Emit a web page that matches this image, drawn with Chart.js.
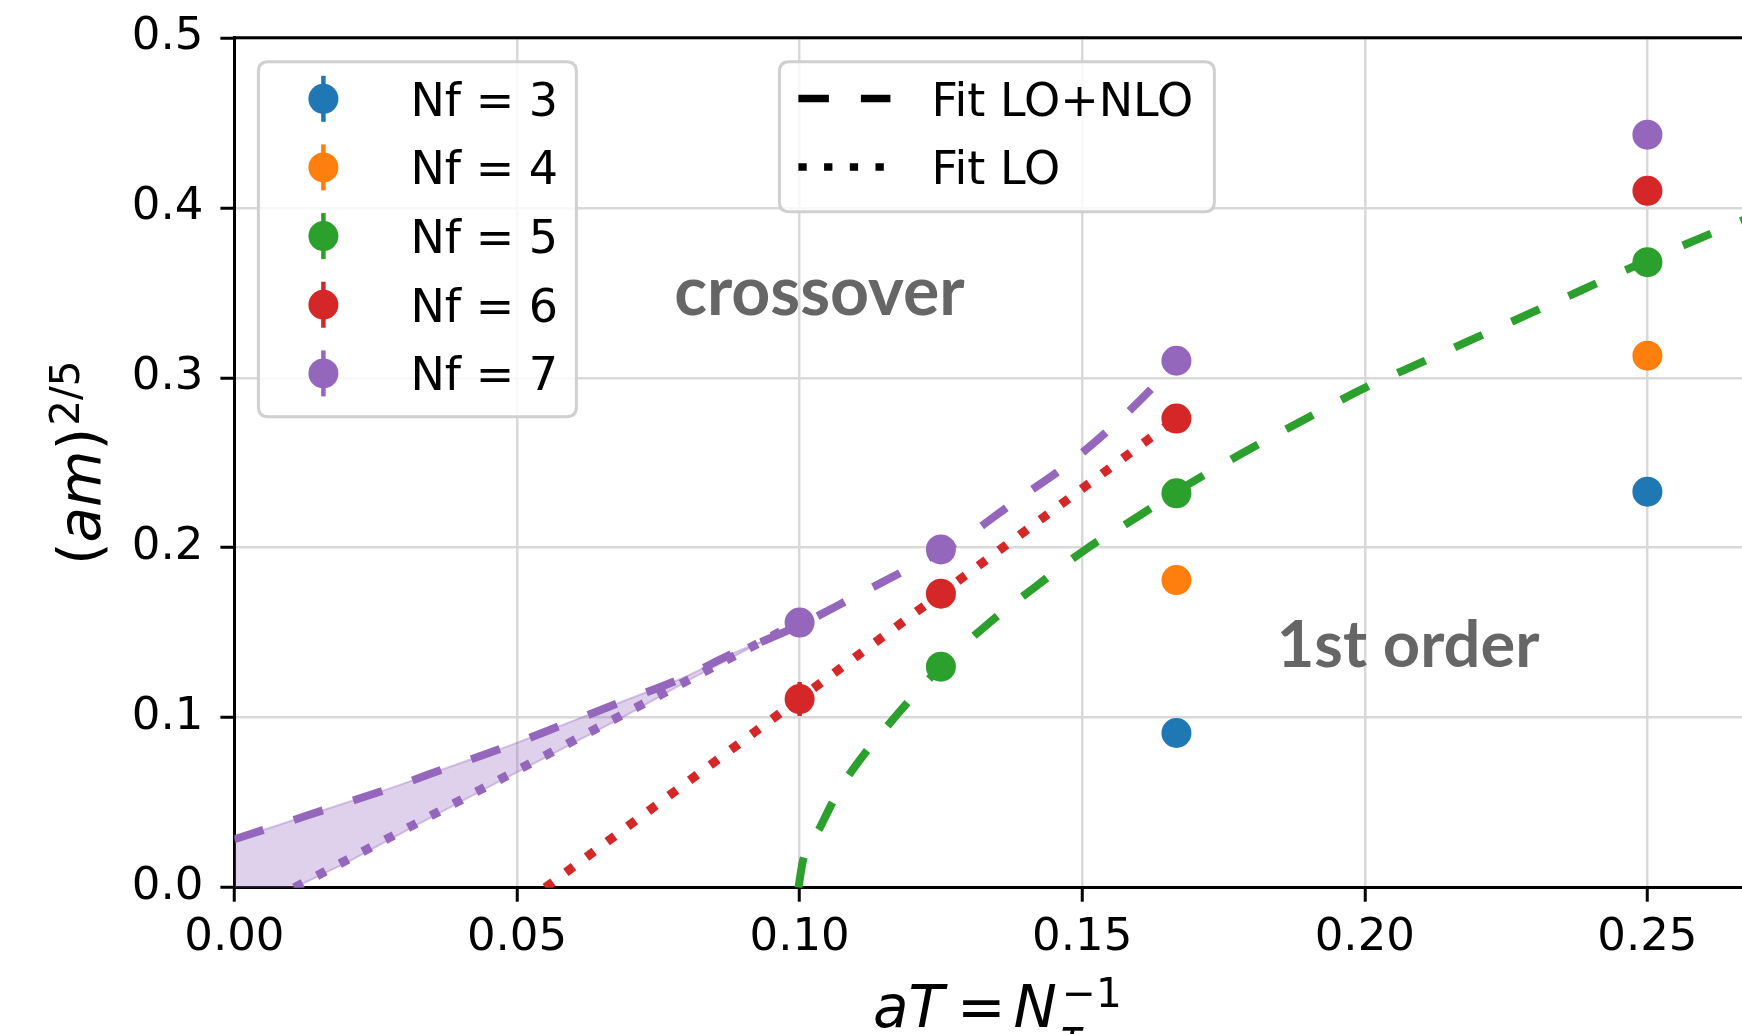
<!DOCTYPE html>
<html><head><meta charset="utf-8">
<script src="https://cdn.jsdelivr.net/npm/chart.js@4/dist/chart.umd.min.js"></script>
<style>html,body{margin:0;padding:0;background:#fff;overflow:hidden;width:1742px;height:1034px}canvas{display:block}</style>
</head><body>
<canvas id="c" width="1770" height="1034" style="width:1770px;height:1034px"></canvas>
<script>
// ---------------- data ----------------
const xTicks = [0.00, 0.05, 0.10, 0.15, 0.20, 0.25];
const yTicks = [0.0, 0.1, 0.2, 0.3, 0.4, 0.5];
const seriesLabels = ['Nf = 3', 'Nf = 4', 'Nf = 5', 'Nf = 6', 'Nf = 7'];
const seriesColors = ['#1f77b4', '#ff7f0e', '#2ca02c', '#d62728', '#9467bd'];

const aT_nf3 = [0.16667, 0.25];
const am_nf3 = [0.091, 0.233];
const err_nf3 = [0.004, 0.004];
const aT_nf4 = [0.16667, 0.25];
const am_nf4 = [0.181, 0.313];
const err_nf4 = [0.004, 0.004];
const aT_nf5 = [0.125, 0.16667, 0.25];
const am_nf5 = [0.130, 0.232, 0.368];
const err_nf5 = [0.005, 0.004, 0.004];
const aT_nf6 = [0.10, 0.125, 0.16667, 0.25];
const am_nf6 = [0.111, 0.173, 0.276, 0.410];
const err_nf6 = [0.010, 0.005, 0.004, 0.004];
const aT_nf7 = [0.10, 0.125, 0.16667, 0.25];
const am_nf7 = [0.156, 0.199, 0.310, 0.443];
const err_nf7 = [0.006, 0.004, 0.004, 0.004];

const fitLabels = ['Fit LO+NLO', 'Fit LO'];
// Nf=5, LO+NLO fit (dashed green)
const nlo5_x = [0.0998, 0.1006, 0.1037, 0.1058, 0.1091, 0.116, 0.125, 0.1329, 0.1417, 0.1506, 0.1597, 0.16667, 0.178, 0.1885, 0.200, 0.210, 0.220, 0.230, 0.240, 0.250, 0.260, 0.270];
const nlo5_y = [0.000, 0.016, 0.036, 0.050, 0.068, 0.097, 0.130, 0.154, 0.177, 0.199, 0.218, 0.233, 0.255, 0.274, 0.294, 0.309, 0.324, 0.339, 0.354, 0.369, 0.383, 0.397];
// Nf=6, LO fit (dotted red)
const lo6_x = [0.055, 0.16667];
const lo6_y = [0.000, 0.276];
// Nf=7, LO+NLO fit (dashed purple)
const nlo7_x = [0.000, 0.007, 0.017, 0.028, 0.038, 0.049, 0.059, 0.069, 0.079, 0.089, 0.0935, 0.100, 0.1096, 0.1194, 0.129, 0.138, 0.147, 0.1556, 0.163, 0.16667];
const nlo7_y = [0.0285, 0.036, 0.047, 0.059, 0.071, 0.084, 0.097, 0.110, 0.123, 0.139, 0.145, 0.1545, 0.171, 0.188, 0.2055, 0.227, 0.248, 0.272, 0.296, 0.309];
// Nf=7, LO fit (dotted purple)
const lo7_x = [0.0106, 0.100];
const lo7_y = [0.000, 0.1566];
// Nf=7 band between the two fits
const bandHi_x = [0.000, 0.007, 0.017, 0.028, 0.038, 0.049, 0.059, 0.069, 0.079, 0.089, 0.0935];
const bandHi_y = [0.0285, 0.036, 0.047, 0.059, 0.071, 0.084, 0.097, 0.110, 0.123, 0.139, 0.145];
const bandLo_x = [0.000, 0.0106, 0.0202, 0.0323, 0.0445, 0.0567, 0.0689, 0.081, 0.0935];
const bandLo_y = [-0.0186, 0.000, 0.0153, 0.0369, 0.0585, 0.0794, 0.1006, 0.1232, 0.145];

const regionLabels = ['crossover', '1st order'];
const regionAnchor_x = [0.0778, 0.1844];
const regionAnchor_y = [0.3369, 0.130];

// ---------------- build ----------------
const pts = (xs, ys) => xs.map((x, i) => ({x: x, y: ys[i]}));
const pointSets = [
  [aT_nf3, am_nf3, err_nf3], [aT_nf4, am_nf4, err_nf4], [aT_nf5, am_nf5, err_nf5],
  [aT_nf6, am_nf6, err_nf6], [aT_nf7, am_nf7, err_nf7]
];
const DASH = [30.5, 32];
const DOT = [9.5, 16.2];
const LW = 8;
const LW_DOT = 9;

const datasets = [];
pointSets.forEach((s, i) => {
  datasets.push({
    label: seriesLabels[i], data: pts(s[0], s[1]), errors: s[2],
    backgroundColor: seriesColors[i], borderColor: seriesColors[i],
    pointRadius: 15, pointHoverRadius: 15, pointBorderWidth: 0, showLine: false, order: 0
  });
});
function fitLine(xs, ys, color, dash, lw, mono) {
  return {data: pts(xs, ys), showLine: true, borderColor: color, backgroundColor: color,
    borderWidth: lw, borderDash: dash, pointRadius: 0, pointHoverRadius: 0, fill: false,
    cubicInterpolationMode: mono ? 'monotone' : 'default', tension: 0, order: 1};
}
datasets.push(fitLine(nlo5_x, nlo5_y, seriesColors[2], DASH, LW, true));
datasets.push(fitLine(lo6_x, lo6_y, seriesColors[3], DOT, LW_DOT, false));
datasets.push(fitLine(nlo7_x, nlo7_y, seriesColors[4], DASH, LW, true));
datasets.push(fitLine(lo7_x, lo7_y, seriesColors[4], DOT, LW_DOT, false));
const bandLoIndex = datasets.length + 1;
datasets.push({data: pts(bandHi_x, bandHi_y), showLine: true, borderColor: 'rgba(148,103,189,0.35)',
  borderWidth: 2, pointRadius: 0, backgroundColor: 'rgba(148,103,189,0.3)', fill: bandLoIndex,
  cubicInterpolationMode: 'monotone', order: 2});
datasets.push({data: pts(bandLo_x, bandLo_y), showLine: true, borderColor: 'rgba(148,103,189,0.35)',
  borderWidth: 2, pointRadius: 0, fill: false, order: 2});

// ---------------- plugins ----------------
const FONT = '"DejaVu Sans", sans-serif';
const errPlugin = {
  id: 'errbars',
  beforeDatasetDraw(chart, args) {
    const ds = chart.data.datasets[args.index];
    if (!ds.errors) return;
    const ctx = chart.ctx, xs = chart.scales.x, ys = chart.scales.y;
    ctx.save();
    ctx.strokeStyle = ds.backgroundColor; ctx.lineWidth = 4.5;
    ds.data.forEach((p, i) => {
      const px = xs.getPixelForValue(p.x);
      ctx.beginPath();
      ctx.moveTo(px, ys.getPixelForValue(p.y - ds.errors[i]));
      ctx.lineTo(px, ys.getPixelForValue(p.y + ds.errors[i]));
      ctx.stroke();
    });
    ctx.restore();
  }
};

function drawRuns(ctx, runs, x0, y0) {
  let cx = x0, lastBase = x0;
  runs.forEach(r => {
    ctx.font = r.font;
    const m = ctx.measureText(r.t).width;
    if (r.stack) { ctx.fillText(r.t, lastBase + (r.pre || 0), y0 + (r.dy || 0)); }
    else { ctx.fillText(r.t, cx + (r.pre || 0), y0 + (r.dy || 0)); cx += m + (r.pre || 0) + (r.gap || 0); lastBase = cx; }
  });
}
function runsWidth(ctx, runs) {
  let w = 0, last = 0;
  runs.forEach(r => {
    ctx.font = r.font; const m = ctx.measureText(r.t).width;
    if (r.stack) { w = Math.max(w, last + (r.pre || 0) + m); }
    else { last += m + (r.pre || 0) + (r.gap || 0); w = Math.max(w, last); }
  });
  return w;
}

const decoPlugin = {
  id: 'deco',
  afterDatasetsDraw(chart) {
    const {ctx, chartArea: a, scales: {x, y}} = chart;
    ctx.save();
    // top & right spines
    ctx.strokeStyle = '#000'; ctx.lineWidth = 3;
    ctx.beginPath(); ctx.moveTo(a.left - 1.5, a.top); ctx.lineTo(a.right + 1.5, a.top); ctx.lineTo(a.right, a.bottom); ctx.stroke();
    // region annotations
    ctx.fillStyle = '#666666';
    ctx.textBaseline = 'alphabetic'; ctx.textAlign = 'left';
    const sizes = [68, 65];
    regionLabels.forEach((t, i) => {
      ctx.font = 'bold ' + sizes[i] + 'px Lato, "Open Sans", sans-serif';
      ctx.fillText(t, x.getPixelForValue(regionAnchor_x[i]), y.getPixelForValue(regionAnchor_y[i]));
    });
    ctx.restore();
  },
  afterDraw(chart) {
    const {ctx, chartArea: a} = chart;
    ctx.save();
    function frame(x0, y0, x1, y1) {
      const r = 10;
      ctx.beginPath();
      ctx.moveTo(x0 + r, y0); ctx.lineTo(x1 - r, y0); ctx.quadraticCurveTo(x1, y0, x1, y0 + r);
      ctx.lineTo(x1, y1 - r); ctx.quadraticCurveTo(x1, y1, x1 - r, y1);
      ctx.lineTo(x0 + r, y1); ctx.quadraticCurveTo(x0, y1, x0, y1 - r);
      ctx.lineTo(x0, y0 + r); ctx.quadraticCurveTo(x0, y0, x0 + r, y0); ctx.closePath();
      ctx.fillStyle = 'rgba(255,255,255,0.8)'; ctx.fill();
      ctx.strokeStyle = '#d0d0d0'; ctx.lineWidth = 3; ctx.stroke();
    }
    // ---- legend 1 (data series)
    frame(a.left + 24, a.top + 24, a.left + 342, a.top + 379);
    ctx.font = '46px ' + FONT; ctx.textBaseline = 'alphabetic'; ctx.textAlign = 'left';
    for (let i = 0; i < 5; i++) {
      const ds = chart.data.datasets[i];
      const cy = a.top + 61 + i * 68.65, cx = a.left + 89;
      ctx.strokeStyle = ds.backgroundColor; ctx.lineWidth = 4.5;
      ctx.beginPath(); ctx.moveTo(cx, cy - 23); ctx.lineTo(cx, cy + 23); ctx.stroke();
      ctx.fillStyle = ds.backgroundColor;
      ctx.beginPath(); ctx.arc(cx, cy, 15, 0, Math.PI * 2); ctx.fill();
      ctx.fillStyle = '#000'; ctx.fillText(ds.label, a.left + 176, cy + 17);
    }
    // ---- legend 2 (fit styles)
    frame(a.left + 545, a.top + 24, a.left + 980, a.top + 174);
    const styles = [DASH, [8.3, 17.4]];
    for (let i = 0; i < 2; i++) {
      const cy = a.top + 60.8 + i * 68.4;
      ctx.strokeStyle = '#000'; ctx.lineWidth = 7.5; ctx.setLineDash(styles[i]); ctx.lineCap = 'butt';
      ctx.beginPath(); ctx.moveTo(a.left + 564, cy); ctx.lineTo(a.left + 656, cy); ctx.stroke();
      ctx.setLineDash([]);
      ctx.fillStyle = '#000'; ctx.fillText(fitLabels[i], a.left + 697, cy + 17);
    }
    // ---- axis titles
    const big = 58, small = 40.6;
    const it = s => 'italic ' + s + 'px ' + FONT, up = s => s + 'px ' + FONT;
    const xRuns = [
      {t: 'aT', font: it(big)}, {t: '=', font: up(big), pre: 13, gap: 8}, {t: 'N', font: it(big)},
      {t: '\u03c4', font: it(small), stack: true, dy: 22, pre: 2}, {t: '\u22121', font: up(small), stack: true, dy: -20, pre: 5}
    ];
    ctx.fillStyle = '#000'; ctx.textAlign = 'left'; ctx.textBaseline = 'alphabetic';
    const xTot = runsWidth(ctx, xRuns);
    drawRuns(ctx, xRuns, (a.left + a.right) / 2 - xTot / 2, 1026.5);
    // y title
    const yRuns = [
      {t: '(', font: up(big)}, {t: 'am', font: it(big)}, {t: ')', font: up(big)}, {t: '2/5', font: up(small), pre: 2, dy: -21}
    ];
    const yTot = runsWidth(ctx, yRuns);
    ctx.translate(100, (a.top + a.bottom) / 2);
    ctx.rotate(-Math.PI / 2);
    drawRuns(ctx, yRuns, -yTot / 2, 0);
    ctx.restore();
  }
};

// ---------------- chart ----------------
const AREA_LEFT = 234.4, AREA_TOP = 37.8, AREA_BOTTOM = 887.7, CANVAS_W = 1770, CANVAS_H = 1034;
const XMAX = 0.27;
const gridOpts = {color: '#d9d9d9', lineWidth: 2.5, tickLength: 14, tickColor: '#000', tickWidth: 3};
function start() {
  new Chart(document.getElementById('c'), {
    type: 'scatter',
    data: {datasets: datasets},
    plugins: [errPlugin, decoPlugin],
    options: {
      responsive: false, animation: false, devicePixelRatio: 1,
      layout: {autoPadding: false, padding: {left: 0, top: AREA_TOP, right: CANVAS_W - (AREA_LEFT + XMAX * 5652), bottom: 0}},
      plugins: {legend: {display: false}, tooltip: {enabled: false}},
      events: [],
      scales: {
        x: {
          type: 'linear', min: 0, max: XMAX,
          afterBuildTicks: s => { s.ticks = xTicks.map(v => ({value: v})); },
          afterFit: s => { s.height = CANVAS_H - AREA_BOTTOM; s.paddingLeft = 0; s.paddingRight = 0; s.paddingTop = 0; s.paddingBottom = 0; },
          ticks: {callback: v => Number(v).toFixed(2), font: {family: 'DejaVu Sans', size: 45}, color: '#000', padding: 10, maxRotation: 0, autoSkip: false},
          grid: gridOpts, border: {display: true, color: '#000', width: 3}
        },
        y: {
          type: 'linear', min: 0, max: 0.5,
          afterBuildTicks: s => { s.ticks = yTicks.map(v => ({value: v})); },
          afterFit: s => { s.width = AREA_LEFT; s.paddingTop = 0; s.paddingBottom = 0; s.paddingLeft = 0; s.paddingRight = 0; },
          ticks: {callback: v => Number(v).toFixed(1), font: {family: 'DejaVu Sans', size: 45}, color: '#000', padding: 17, autoSkip: false},
          grid: gridOpts, border: {display: true, color: '#000', width: 3}
        }
      }
    }
  });
}
Promise.all([
  document.fonts.load('45px "DejaVu Sans"'), document.fonts.load('italic 58px "DejaVu Sans"'),
  document.fonts.load('bold 64px Lato')
]).then(start, start);
</script>
</body></html>
